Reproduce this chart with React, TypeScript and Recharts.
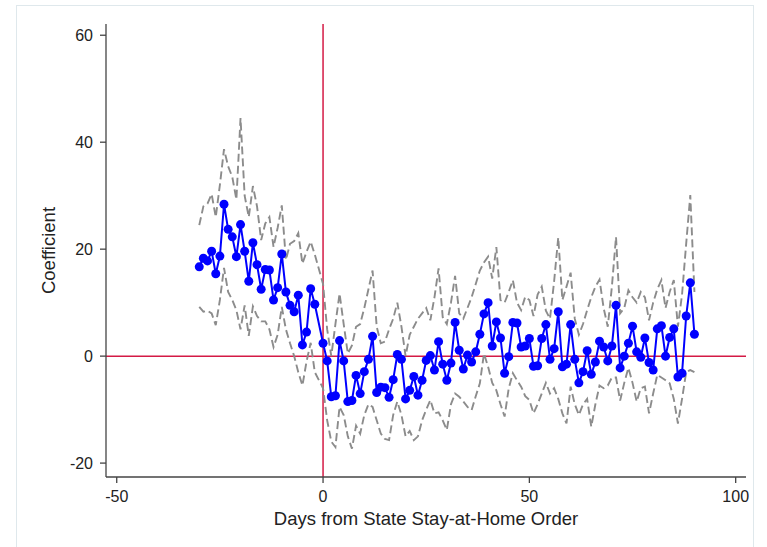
import React from 'react';
import { LineChart, Line, XAxis, YAxis, ReferenceLine } from 'recharts';

// day -1 is the omitted reference day
const days = [
  -30, -29, -28, -27, -26, -25, -24, -23, -22, -21, -20, -19, -18, -17, -16, -15, -14, -13, -12, -11,
  -10, -9, -8, -7, -6, -5, -4, -3, -2,
  0, 1, 2, 3, 4, 5, 6, 7, 8, 9, 10, 11, 12, 13, 14, 15, 16, 17, 18, 19, 20,
  21, 22, 23, 24, 25, 26, 27, 28, 29, 30, 31, 32, 33, 34, 35, 36, 37, 38, 39, 40,
  41, 42, 43, 44, 45, 46, 47, 48, 49, 50, 51, 52, 53, 54, 55, 56, 57, 58, 59, 60,
  61, 62, 63, 64, 65, 66, 67, 68, 69, 70, 71, 72, 73, 74, 75, 76, 77, 78, 79, 80,
  81, 82, 83, 84, 85, 86, 87, 88, 89, 90,
];

const coef = [
  16.7, 18.3, 17.8, 19.6, 15.4, 18.7, 28.4, 23.7, 22.3, 18.6, 24.6, 19.6, 14.0, 21.2, 17.1, 12.5, 16.2, 16.1, 10.5, 12.8,
  19.1, 12.0, 9.5, 8.3, 11.4, 2.1, 4.5, 12.6, 9.7,
  2.4, -0.9, -7.6, -7.4, 2.9, -0.9, -8.5, -8.3, -3.6, -7.0, -2.9, -0.6, 3.7, -6.8, -5.8, -5.9, -7.7, -4.4, 0.3, -0.6, -8.0,
  -6.4, -3.8, -7.3, -4.5, -0.8, 0.1, -2.6, 2.7, -1.5, -4.5, -1.3, 6.3, 1.1, -2.4, 0.2, -1.1, 0.8, 4.1, 7.9, 10.0,
  1.9, 6.4, 3.4, -3.2, -0.1, 6.3, 6.2, 1.7, 1.9, 3.3, -1.9, -1.8, 3.3, 5.9, -0.6, 1.4, 8.3, -2.0, -1.5, 5.9,
  -0.6, -5.0, -2.9, 1.0, -3.4, -1.1, 2.8, 1.7, -0.9, 1.9, 9.5, -2.2, 0.0, 2.4, 5.6, 0.8, -0.2, 3.4, -1.2, -2.6,
  5.1, 5.7, 0.0, 3.5, 5.1, -3.9, -3.2, 7.5, 13.7, 4.1,
];

const upper = [
  24.5, 28, 28.5, 30.3, 26, 32, 38.7, 35.5, 33.5, 29.3, 44.5, 30, 26, 31.8, 28, 21.7, 24.8, 26, 20.4, 24,
  28.2, 18, 21, 21.5, 23, 17.3, 19.5, 21.4, 19,
  13.5, 5, 0, 6, 11.7, 6, 0.5, 2, 5.5, 6, 9, 12.5, 16, 5.5, 2.4, 2.7, 5, 7, 10, 5.5, 0,
  4, 5.5, 7, 8, 9, 6.7, 11, 16.4, 7.3, 6, 10, 15, 8, 7, 9, 11, 13.5, 16, 17.5, 18.6,
  14.5, 20.4, 10.5, 10, 12, 14.2, 10, 8.6, 11.1, 10.5, 7.5, 11.5, 13, 8.5, 7, 14, 22.2, 10.5, 13, 15.6,
  7, 4, 6, 8.6, 11, 13, 14.3, 9, 5.5, 13, 22.3, 8, 9, 12.3, 11, 10, 12, 11, 6.7, 10,
  12.5, 14.2, 9, 12, 14.2, 5.5, 11.5, 21, 30.1, 12,
];

const lower = [
  9.2, 8.3, 8.5, 8, 5.8, 10.5, 16.5, 12, 10.5, 8.6, 5, 9.5, 3.8, 9.3, 7.5, 6.5, 6.5, 5, 1.7, 4,
  9.2, 5, 2.4, 0, -3, -5.5, -1, 2.5, -3,
  -6, -12, -16, -17, -9.5, -11, -15, -17.3, -13, -14.5, -11, -9, -9.5, -12, -14.5, -15.5, -15.7, -11, -8.5, -11, -15,
  -14, -15.7, -15, -12, -10, -8.2, -10.7, -10.5, -12, -13.8, -9, -7, -7.6, -8.5, -9.5, -10.1, -7.5, -5.1, 0.5, -2,
  -5, -6.4, -9, -11.3, -6, -3.2, -4.5, -5.7, -7.5, -8.2, -10.7, -9, -7, -5, -7, -6, -8, -10.7, -12.6, -5.7,
  -9, -11, -9, -8, -13.2, -9, -5.5, -6, -5.5, -4, -4, -8.3, -5, -2.2, -5, -8.5, -6, -5.7, -10.7, -7,
  -3.5, -4, -4.5, -5.1, -8, -12.6, -8, -3, -2.6, -3,
];

const xTicks = [-50, 0, 50, 100];
const yTicks = [-20, 0, 20, 40, 60];

const data = days.map((d, i) => ({ day: d, coef: coef[i], upper: upper[i], lower: lower[i] }));

const FONT = '"Liberation Sans", Arial, sans-serif';
const tickStyle = { fontSize: 16, fill: '#222', fontFamily: FONT };
const titleStyle = { fontSize: 18.5, fill: '#222', fontFamily: FONT };

export default function App() {
  return (
    <div style={{ position: 'absolute', left: 0, top: 0, width: 767, height: 547, background: '#fff', overflow: 'hidden' }}>
      <div
        style={{
          position: 'absolute',
          left: 16,
          top: 5,
          width: 736,
          height: 600,
          border: '1px solid #dfe8ec',
        }}
      />
      <div style={{ position: 'absolute', left: 0, top: 0 }}>
        <LineChart width={767} height={547} data={data} margin={{ top: 24, right: 21, bottom: 18, left: 0 }}>
          <XAxis
            type="number"
            dataKey="day"
            domain={[-52.6, 102.5]}
            ticks={xTicks}
            allowDataOverflow
            height={52}
            tickSize={6}
            tickMargin={8}
            tick={tickStyle}
            stroke="#444"
            strokeWidth={1.3}
            label={{
              value: 'Days from State Stay-at-Home Order',
              position: 'insideBottom',
              offset: 4,
              style: titleStyle,
            }}
          />
          <YAxis
            type="number"
            domain={[-22.6, 62.1]}
            ticks={yTicks}
            allowDataOverflow
            width={106}
            tickSize={6}
            tickMargin={7}
            tick={tickStyle}
            stroke="#444"
            strokeWidth={1.3}
            label={{
              value: 'Coefficient',
              angle: -90,
              position: 'insideLeft',
              offset: 48,
              style: { ...titleStyle, textAnchor: 'middle' },
            }}
          />
          <ReferenceLine x={0} stroke="#d41a45" strokeWidth={1.5} />
          <ReferenceLine y={0} stroke="#d41a45" strokeWidth={1.5} />
          <Line
            type="linear"
            dataKey="upper"
            stroke="#8c8c8c"
            strokeWidth={1.9}
            strokeDasharray="8 4"
            dot={false}
            activeDot={false}
            isAnimationActive={false}
          />
          <Line
            type="linear"
            dataKey="lower"
            stroke="#8c8c8c"
            strokeWidth={1.9}
            strokeDasharray="8 4"
            dot={false}
            activeDot={false}
            isAnimationActive={false}
          />
          <Line
            type="linear"
            dataKey="coef"
            stroke="#0000ff"
            strokeWidth={2}
            dot={{ r: 4.5, fill: '#0000ff', stroke: 'none' }}
            activeDot={false}
            isAnimationActive={false}
          />
        </LineChart>
      </div>
    </div>
  );
}
